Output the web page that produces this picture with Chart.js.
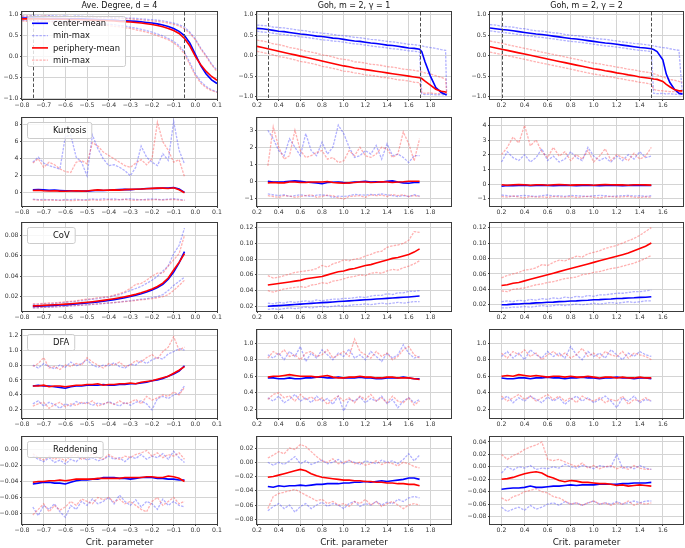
<!DOCTYPE html>
<html><head><meta charset="utf-8">
<script src="https://cdn.jsdelivr.net/npm/chart.js@4.4.0/dist/chart.umd.min.js"></script>
<style>
html,body{margin:0;padding:0;background:#fff;}
body{width:685px;height:548px;position:relative;overflow:hidden;}
canvas{position:absolute;}
</style></head><body>
<script>
// ---------------- DATA ----------------
// Row 1 (state): x grids
const degState_x=[-0.8,-0.775,-0.75,-0.725,-0.7,-0.675,-0.65,-0.625,-0.6,-0.575,-0.55,-0.525,-0.5,-0.475,-0.45,-0.425,-0.4,-0.375,-0.35,-0.325,-0.3,-0.275,-0.25,-0.225,-0.2,-0.175,-0.15,-0.125,-0.1,-0.075,-0.05,-0.025,0,0.025,0.05,0.075,0.1];
const degState_cMean=[0.92,0.92,0.92,0.915,0.915,0.91,0.91,0.91,0.905,0.905,0.9,0.9,0.895,0.89,0.885,0.88,0.875,0.87,0.86,0.855,0.85,0.84,0.83,0.815,0.8,0.78,0.755,0.72,0.67,0.6,0.5,0.32,0.05,-0.22,-0.42,-0.56,-0.65];
const degState_cMin=[0.87,0.86,0.87,0.85,0.86,0.85,0.84,0.85,0.83,0.84,0.82,0.83,0.81,0.8,0.8,0.78,0.77,0.76,0.74,0.73,0.7,0.68,0.65,0.62,0.58,0.54,0.49,0.43,0.36,0.26,0.1,-0.15,-0.42,-0.6,-0.72,-0.8,-0.85];
const degState_cMax=[0.97,0.96,0.98,0.97,0.96,0.98,0.97,0.96,0.97,0.95,0.97,0.96,0.95,0.96,0.94,0.95,0.94,0.93,0.94,0.92,0.92,0.91,0.9,0.89,0.88,0.87,0.85,0.83,0.8,0.76,0.7,0.58,0.42,0.2,0.02,-0.18,-0.33];
const degState_pMean=[0.9,0.9,0.9,0.9,0.895,0.895,0.89,0.89,0.89,0.885,0.885,0.88,0.875,0.87,0.865,0.86,0.855,0.85,0.84,0.835,0.825,0.815,0.8,0.785,0.765,0.74,0.71,0.67,0.62,0.55,0.43,0.25,0.0,-0.2,-0.36,-0.48,-0.57];
const degState_pMin=[0.85,0.84,0.86,0.84,0.83,0.84,0.82,0.83,0.81,0.82,0.8,0.8,0.78,0.78,0.77,0.75,0.74,0.72,0.71,0.69,0.67,0.64,0.61,0.58,0.54,0.5,0.45,0.4,0.32,0.22,0.06,-0.2,-0.46,-0.64,-0.75,-0.82,-0.86];
const degState_pMax=[0.96,0.97,0.96,0.95,0.97,0.96,0.95,0.96,0.95,0.96,0.94,0.95,0.94,0.93,0.94,0.92,0.93,0.91,0.92,0.9,0.9,0.88,0.88,0.86,0.85,0.84,0.82,0.8,0.77,0.73,0.66,0.55,0.4,0.18,0.0,-0.2,-0.36];

const g1State_x=[0.2,0.25,0.3,0.35,0.4,0.45,0.5,0.55,0.6,0.65,0.7,0.75,0.8,0.85,0.9,0.95,1.0,1.05,1.1,1.15,1.2,1.25,1.3,1.35,1.4,1.45,1.5,1.55,1.6,1.65,1.7,1.72,1.75,1.8,1.85,1.9,1.94,1.95];
const g1State_cMean=[0.67,0.66,0.64,0.62,0.6,0.59,0.57,0.55,0.53,0.52,0.5,0.48,0.47,0.45,0.43,0.42,0.4,0.38,0.36,0.35,0.33,0.31,0.3,0.28,0.26,0.25,0.23,0.21,0.19,0.18,0.16,0.1,-0.15,-0.5,-0.78,-0.9,-0.95,-0.96];
const g1State_cMin=[0.6,0.58,0.57,0.55,0.53,0.52,0.5,0.48,0.46,0.45,0.43,0.41,0.39,0.38,0.36,0.35,0.33,0.31,0.29,0.28,0.26,0.24,0.22,0.21,0.19,0.17,0.16,0.14,0.12,0.11,0.09,-0.93,-0.95,-0.94,-0.96,-0.95,-0.96,-0.96];
const g1State_cMax=[0.75,0.74,0.73,0.7,0.69,0.68,0.66,0.64,0.62,0.61,0.58,0.57,0.55,0.54,0.52,0.5,0.49,0.47,0.45,0.44,0.42,0.4,0.39,0.37,0.35,0.34,0.32,0.3,0.28,0.27,0.25,0.24,0.22,0.2,0.18,0.15,0.13,-0.95];
const g1State_pMean=[0.23,0.2,0.17,0.14,0.11,0.08,0.05,0.02,-0.01,-0.04,-0.07,-0.1,-0.13,-0.16,-0.19,-0.22,-0.25,-0.27,-0.3,-0.32,-0.34,-0.36,-0.38,-0.4,-0.42,-0.44,-0.46,-0.48,-0.5,-0.52,-0.54,-0.56,-0.62,-0.72,-0.82,-0.87,-0.89,-0.9];
const g1State_pMin=[0.11,0.08,0.05,0.02,-0.02,-0.04,-0.07,-0.1,-0.14,-0.16,-0.19,-0.22,-0.26,-0.28,-0.31,-0.34,-0.38,-0.39,-0.42,-0.44,-0.47,-0.48,-0.5,-0.53,-0.54,-0.56,-0.59,-0.6,-0.62,-0.65,-0.66,-0.9,-0.92,-0.91,-0.93,-0.92,-0.93,-0.93];
const g1State_pMax=[0.38,0.36,0.33,0.29,0.27,0.24,0.2,0.18,0.15,0.11,0.09,0.06,0.02,0.0,-0.03,-0.07,-0.09,-0.11,-0.15,-0.16,-0.18,-0.21,-0.22,-0.24,-0.27,-0.28,-0.3,-0.33,-0.34,-0.36,-0.38,-0.4,-0.42,-0.45,-0.49,-0.53,-0.57,-0.9];

const g2State_x=[0.1,0.15,0.2,0.25,0.3,0.35,0.4,0.45,0.5,0.55,0.6,0.65,0.7,0.75,0.8,0.85,0.9,0.95,1.0,1.05,1.1,1.15,1.2,1.25,1.3,1.35,1.4,1.45,1.5,1.52,1.55,1.6,1.63,1.66,1.7,1.74,1.77];
const g2State_cMean=[0.68,0.66,0.64,0.63,0.61,0.59,0.57,0.55,0.53,0.52,0.5,0.48,0.46,0.44,0.42,0.41,0.39,0.37,0.35,0.33,0.31,0.3,0.28,0.26,0.24,0.22,0.2,0.19,0.17,0.15,0.1,-0.1,-0.45,-0.65,-0.82,-0.92,-0.94];
const g2State_cMin=[0.61,0.59,0.57,0.56,0.54,0.52,0.5,0.48,0.46,0.45,0.43,0.41,0.39,0.37,0.35,0.34,0.32,0.3,0.28,0.26,0.24,0.23,0.21,0.19,0.17,0.15,0.13,0.12,0.1,-0.92,-0.93,-0.92,-0.94,-0.93,-0.94,-0.95,-0.95];
const g2State_cMax=[0.76,0.75,0.72,0.71,0.7,0.67,0.66,0.63,0.61,0.6,0.58,0.56,0.55,0.52,0.5,0.49,0.47,0.45,0.43,0.41,0.4,0.38,0.36,0.34,0.32,0.3,0.29,0.27,0.25,0.24,0.22,0.2,0.19,0.17,0.15,0.13,-0.95];
const g2State_pMean=[0.22,0.19,0.16,0.13,0.1,0.07,0.04,0.01,-0.02,-0.05,-0.08,-0.11,-0.14,-0.17,-0.2,-0.23,-0.26,-0.29,-0.32,-0.34,-0.37,-0.39,-0.42,-0.44,-0.47,-0.49,-0.52,-0.54,-0.56,-0.57,-0.58,-0.63,-0.7,-0.76,-0.83,-0.86,-0.86];
const g2State_pMin=[0.09,0.06,0.03,0.0,-0.03,-0.06,-0.09,-0.12,-0.15,-0.18,-0.21,-0.24,-0.27,-0.3,-0.33,-0.36,-0.39,-0.42,-0.45,-0.47,-0.5,-0.52,-0.55,-0.57,-0.6,-0.62,-0.65,-0.67,-0.7,-0.82,-0.85,-0.86,-0.87,-0.88,-0.88,-0.89,-0.9];
const g2State_pMax=[0.36,0.33,0.31,0.27,0.24,0.21,0.18,0.15,0.12,0.09,0.06,0.03,0.0,-0.03,-0.06,-0.09,-0.12,-0.15,-0.18,-0.2,-0.23,-0.25,-0.28,-0.3,-0.33,-0.35,-0.38,-0.4,-0.42,-0.44,-0.47,-0.52,-0.55,-0.58,-0.6,-0.63,-0.65];

// Rows 2-5: x grids (window between the critical lines)
const xDeg=[-0.75,-0.725,-0.7,-0.675,-0.65,-0.625,-0.6,-0.575,-0.55,-0.525,-0.5,-0.475,-0.45,-0.425,-0.4,-0.375,-0.35,-0.325,-0.3,-0.275,-0.25,-0.225,-0.2,-0.175,-0.15,-0.125,-0.1,-0.075,-0.05];
const xG1=[0.3,0.35,0.4,0.45,0.5,0.55,0.6,0.65,0.7,0.75,0.8,0.85,0.9,0.95,1.0,1.05,1.1,1.15,1.2,1.25,1.3,1.35,1.4,1.45,1.5,1.55,1.6,1.65,1.7];
const xG2=[0.2,0.25,0.3,0.35,0.4,0.45,0.5,0.55,0.6,0.65,0.7,0.75,0.8,0.85,0.9,0.95,1.0,1.05,1.1,1.15,1.2,1.25,1.3,1.35,1.4,1.45,1.5];

// Kurtosis
const degKurt_cMean=[0.35,0.38,0.35,0.3,0.32,0.28,0.25,0.25,0.22,0.22,0.2,0.25,0.3,0.28,0.3,0.35,0.38,0.4,0.38,0.42,0.45,0.5,0.5,0.52,0.55,0.55,0.62,0.45,0.05];
const degKurt_cMin=[-0.75,-0.8,-0.78,-0.82,-0.8,-0.85,-0.78,-0.8,-0.75,-0.82,-0.8,-0.72,-0.78,-0.7,-0.75,-0.72,-0.8,-0.75,-0.7,-0.78,-0.82,-0.75,-0.72,-0.78,-0.8,-0.75,-0.7,-0.78,-0.85];
const degKurt_cMax=[3.6,4.2,3.5,3.2,3.0,2.8,6.6,6.8,4.2,3.6,2.0,6.8,5.2,4.0,3.2,3.3,3.0,2.6,2.0,3.0,5.5,4.2,3.6,3.2,4.6,3.8,8.4,5.0,3.4];
const degKurt_pMean=[0.28,0.3,0.25,0.22,0.25,0.2,0.18,0.22,0.25,0.2,0.22,0.3,0.35,0.3,0.32,0.35,0.32,0.38,0.4,0.42,0.45,0.48,0.52,0.55,0.55,0.5,0.6,0.35,0.0];
const degKurt_pMin=[-0.8,-0.85,-0.9,-0.82,-0.88,-0.9,-0.85,-0.92,-0.88,-0.85,-0.9,-0.82,-0.88,-0.85,-0.8,-0.85,-0.82,-0.78,-0.85,-0.88,-0.8,-0.85,-0.82,-0.78,-0.85,-0.8,-0.78,-0.85,-0.9];
const degKurt_pMax=[3.5,4.0,3.0,3.6,3.3,2.8,2.5,2.4,3.6,3.8,3.4,5.9,5.5,4.8,4.4,4.0,3.6,3.2,3.0,3.5,3.9,3.3,4.0,8.3,6.0,5.0,3.6,3.9,1.9];

const g1Kurt_cMean=[0.0,-0.05,-0.05,-0.03,0.0,0.02,0.0,-0.05,-0.08,-0.1,-0.15,-0.08,-0.06,-0.05,-0.08,-0.1,-0.05,-0.03,0.0,-0.05,-0.03,-0.05,0.0,0.02,-0.05,-0.1,-0.12,-0.08,-0.08];
const g1Kurt_cMin=[-0.75,-0.8,-0.85,-0.8,-0.9,-0.85,-0.8,-0.85,-0.9,-0.82,-0.8,-0.85,-0.95,-0.88,-0.9,-0.85,-0.78,-0.8,-0.82,-0.78,-0.8,-0.75,-0.8,-0.85,-0.9,-0.85,-0.9,-0.8,-0.88];
const g1Kurt_cMax=[3.0,2.5,1.8,1.5,2.5,2.0,1.5,2.8,1.8,1.5,2.3,1.6,2.0,3.3,2.8,2.0,1.4,1.5,1.8,1.6,2.1,1.3,2.2,1.5,1.6,1.4,1.1,1.5,1.5];
const g1Kurt_pMean=[-0.1,-0.08,-0.1,-0.1,-0.05,-0.05,-0.08,-0.08,-0.05,-0.05,-0.05,-0.02,-0.08,-0.1,-0.12,-0.1,-0.08,-0.05,-0.05,-0.08,-0.06,-0.03,-0.05,-0.08,-0.05,-0.03,0.0,0.0,0.0];
const g1Kurt_pMin=[-0.85,-0.9,-0.95,-0.85,-0.88,-0.95,-0.9,-0.85,-0.8,-0.95,-0.9,-0.82,-0.85,-0.98,-1.05,-0.9,-0.88,-0.85,-0.95,-0.8,-0.85,-0.82,-0.9,-0.78,-0.85,-0.8,-0.9,-0.85,-0.9];
const g1Kurt_pMax=[0.9,3.2,2.0,1.3,1.5,3.0,1.8,1.4,1.5,1.7,1.8,1.3,1.4,1.1,1.2,1.8,1.5,2.0,1.5,1.4,1.6,2.0,1.9,1.4,1.6,2.9,2.2,1.2,2.5];

const g2Kurt_cMean=[-0.15,-0.1,-0.12,-0.1,-0.08,-0.12,-0.1,-0.08,-0.1,-0.12,-0.1,-0.08,-0.1,-0.12,-0.1,-0.08,-0.1,-0.12,-0.1,-0.08,-0.1,-0.12,-0.1,-0.08,-0.1,-0.1,-0.1];
const g2Kurt_cMin=[-0.75,-0.8,-0.85,-0.8,-0.78,-0.82,-0.85,-0.8,-0.75,-0.82,-0.8,-0.85,-0.78,-0.8,-0.82,-0.85,-0.8,-0.78,-0.8,-0.85,-0.82,-0.8,-0.78,-0.82,-0.8,-0.85,-0.8];
const g2Kurt_cMax=[1.5,2.2,1.8,1.6,2.0,1.5,1.8,2.4,1.6,1.9,1.5,1.7,2.2,1.8,1.6,2.5,1.9,1.6,1.8,1.5,1.9,1.6,2.0,1.7,2.2,1.8,1.9];
const g2Kurt_pMean=[-0.05,-0.08,-0.05,-0.03,-0.05,-0.08,-0.05,-0.05,-0.08,-0.05,-0.03,-0.05,-0.08,-0.06,-0.05,-0.05,-0.08,-0.05,-0.03,-0.05,-0.06,-0.05,-0.08,-0.05,-0.05,-0.06,-0.08];
const g2Kurt_pMin=[-0.85,-0.9,-0.82,-0.88,-0.95,-0.85,-0.9,-0.88,-0.92,-0.85,-0.88,-0.9,-0.85,-0.92,-0.88,-0.85,-0.9,-0.95,-0.88,-0.85,-0.9,-0.88,-0.85,-0.9,-0.92,-0.88,-0.9];
const g2Kurt_pMax=[2.0,2.5,3.2,2.8,4.0,2.6,3.0,2.2,1.8,2.5,1.9,2.2,1.6,2.0,1.7,2.3,1.5,1.9,2.4,1.6,2.0,1.8,1.6,2.1,1.7,1.9,2.5];

// CoV
const degCov_cMean=[0.0105,0.0107,0.011,0.0112,0.0115,0.0118,0.012,0.0124,0.0128,0.0133,0.0138,0.0143,0.0149,0.0156,0.0163,0.0171,0.018,0.019,0.0201,0.0214,0.0228,0.0245,0.0265,0.029,0.032,0.037,0.044,0.053,0.064];
const degCov_cMin=[0.009,0.0092,0.0095,0.0097,0.01,0.0102,0.0105,0.011,0.0112,0.0116,0.012,0.0124,0.0128,0.0133,0.0138,0.0143,0.0148,0.0155,0.016,0.0168,0.0175,0.018,0.019,0.02,0.022,0.026,0.031,0.035,0.039];
const degCov_cMax=[0.0125,0.0125,0.013,0.013,0.0135,0.014,0.0145,0.015,0.0155,0.016,0.017,0.0175,0.018,0.019,0.0195,0.021,0.022,0.024,0.026,0.028,0.03,0.033,0.036,0.04,0.045,0.05,0.062,0.07,0.087];
const degCov_pMean=[0.011,0.0112,0.0115,0.0118,0.0121,0.0124,0.0127,0.0131,0.0135,0.014,0.0145,0.0151,0.0157,0.0164,0.0172,0.018,0.0189,0.0199,0.021,0.0223,0.0238,0.0255,0.0276,0.03,0.0332,0.0382,0.046,0.0535,0.062];
const degCov_pMin=[0.0092,0.0094,0.0096,0.0099,0.0102,0.0105,0.0108,0.0112,0.0115,0.0118,0.0122,0.0126,0.013,0.0134,0.0138,0.0142,0.0147,0.0152,0.0157,0.0163,0.017,0.0175,0.018,0.019,0.02,0.022,0.026,0.031,0.036];
const degCov_pMax=[0.013,0.013,0.0135,0.014,0.014,0.0145,0.015,0.0155,0.016,0.017,0.0175,0.018,0.019,0.0195,0.02,0.0215,0.023,0.025,0.028,0.032,0.033,0.036,0.04,0.043,0.043,0.05,0.056,0.062,0.08];

const g1Cov_cMean=[0.02,0.0205,0.0209,0.0214,0.0218,0.0223,0.0228,0.0232,0.0237,0.0241,0.0246,0.025,0.0255,0.026,0.0264,0.0269,0.0273,0.0278,0.0283,0.0287,0.0292,0.0296,0.0301,0.0305,0.031,0.0315,0.0319,0.0324,0.033];
const g1Cov_cMin=[0.016,0.017,0.016,0.017,0.018,0.017,0.018,0.019,0.018,0.019,0.02,0.019,0.02,0.021,0.02,0.021,0.022,0.022,0.023,0.022,0.023,0.024,0.023,0.024,0.025,0.024,0.025,0.026,0.026];
const g1Cov_cMax=[0.024,0.023,0.025,0.024,0.026,0.025,0.026,0.027,0.026,0.028,0.027,0.028,0.029,0.029,0.03,0.03,0.031,0.032,0.031,0.033,0.034,0.034,0.036,0.035,0.037,0.037,0.039,0.039,0.04];
const g1Cov_pMean=[0.047,0.048,0.049,0.05,0.051,0.052,0.053,0.055,0.056,0.057,0.058,0.06,0.062,0.064,0.065,0.067,0.068,0.07,0.072,0.073,0.075,0.077,0.079,0.081,0.082,0.084,0.086,0.089,0.093];
const g1Cov_pMin=[0.04,0.038,0.04,0.042,0.043,0.044,0.045,0.044,0.047,0.048,0.05,0.049,0.052,0.053,0.055,0.057,0.058,0.06,0.059,0.062,0.063,0.062,0.065,0.067,0.066,0.069,0.071,0.074,0.078];
const g1Cov_pMax=[0.059,0.056,0.057,0.059,0.061,0.063,0.064,0.065,0.066,0.068,0.072,0.07,0.074,0.076,0.079,0.078,0.08,0.081,0.084,0.086,0.089,0.09,0.095,0.097,0.098,0.1,0.104,0.115,0.114];

const g2Cov_cMean=[0.02,0.0203,0.0209,0.0211,0.0217,0.0219,0.0225,0.0227,0.0233,0.0235,0.0241,0.0243,0.0249,0.0251,0.0257,0.0259,0.0265,0.0267,0.0273,0.0275,0.0281,0.0283,0.0289,0.0291,0.0297,0.0299,0.0305];
const g2Cov_cMin=[0.016,0.016,0.017,0.017,0.018,0.017,0.018,0.019,0.018,0.019,0.02,0.019,0.02,0.021,0.02,0.021,0.022,0.021,0.022,0.023,0.022,0.023,0.024,0.023,0.024,0.025,0.025];
const g2Cov_cMax=[0.024,0.025,0.024,0.026,0.025,0.027,0.026,0.028,0.027,0.029,0.028,0.03,0.029,0.031,0.03,0.032,0.031,0.033,0.033,0.034,0.035,0.035,0.036,0.037,0.037,0.038,0.039];
const g2Cov_pMean=[0.045,0.046,0.048,0.049,0.051,0.053,0.055,0.057,0.059,0.061,0.063,0.065,0.067,0.069,0.071,0.073,0.075,0.077,0.079,0.081,0.083,0.085,0.087,0.09,0.093,0.096,0.1];
const g2Cov_pMin=[0.038,0.037,0.04,0.041,0.042,0.044,0.046,0.047,0.049,0.05,0.052,0.054,0.055,0.056,0.059,0.06,0.062,0.063,0.065,0.067,0.068,0.07,0.072,0.074,0.077,0.08,0.084];
const g2Cov_pMax=[0.055,0.058,0.06,0.062,0.065,0.066,0.068,0.072,0.071,0.075,0.078,0.077,0.08,0.083,0.082,0.086,0.088,0.09,0.093,0.095,0.097,0.1,0.103,0.106,0.11,0.115,0.12];

// DFA
const degDfa_cMean=[0.52,0.53,0.52,0.52,0.51,0.5,0.49,0.51,0.52,0.52,0.53,0.53,0.53,0.54,0.53,0.53,0.54,0.54,0.55,0.55,0.56,0.57,0.59,0.6,0.62,0.65,0.68,0.72,0.79];
const degDfa_cMin=[0.28,0.32,0.25,0.3,0.27,0.22,0.28,0.25,0.31,0.28,0.3,0.26,0.29,0.27,0.31,0.28,0.25,0.3,0.26,0.3,0.32,0.28,0.2,0.35,0.38,0.35,0.4,0.42,0.52];
const degDfa_cMax=[0.8,0.76,0.82,0.78,0.75,0.8,0.77,0.84,0.79,0.82,0.87,0.8,0.77,0.8,0.79,0.83,0.78,0.76,0.81,0.8,0.86,0.82,0.87,0.9,0.88,0.95,0.98,1.02,1.0];
const degDfa_pMean=[0.52,0.52,0.53,0.51,0.52,0.52,0.51,0.52,0.53,0.53,0.54,0.54,0.55,0.53,0.54,0.54,0.55,0.55,0.56,0.55,0.57,0.58,0.59,0.61,0.63,0.65,0.69,0.73,0.78];
const degDfa_pMin=[0.25,0.28,0.3,0.22,0.27,0.3,0.24,0.28,0.26,0.3,0.28,0.32,0.25,0.28,0.3,0.27,0.32,0.28,0.3,0.34,0.28,0.38,0.33,0.36,0.4,0.38,0.44,0.4,0.5];
const degDfa_pMax=[0.78,0.82,0.9,0.76,0.78,0.74,0.8,0.78,0.82,0.8,0.9,0.84,0.8,0.76,0.82,0.8,0.84,0.78,0.8,0.86,0.84,0.9,0.94,0.88,0.98,1.04,1.18,1.0,1.04];

const g1Dfa_cMean=[0.58,0.58,0.57,0.57,0.58,0.57,0.57,0.58,0.58,0.59,0.59,0.58,0.58,0.59,0.58,0.58,0.58,0.59,0.58,0.58,0.57,0.57,0.58,0.58,0.58,0.59,0.58,0.57,0.57];
const g1Dfa_cMin=[0.34,0.3,0.36,0.28,0.32,0.38,0.3,0.34,0.28,0.36,0.3,0.33,0.26,0.36,0.18,0.32,0.3,0.35,0.28,0.33,0.3,0.36,0.27,0.32,0.22,0.3,0.34,0.28,0.32];
const g1Dfa_cMax=[0.86,0.82,0.88,0.8,0.9,0.84,0.96,0.78,0.88,0.82,0.92,0.86,0.8,0.88,0.84,0.93,0.82,0.86,0.8,0.9,0.84,0.78,0.88,0.82,0.86,0.98,0.88,0.82,0.84];
const g1Dfa_pMean=[0.59,0.6,0.6,0.61,0.62,0.61,0.6,0.6,0.6,0.59,0.6,0.61,0.59,0.58,0.58,0.59,0.59,0.6,0.59,0.59,0.58,0.58,0.59,0.59,0.58,0.58,0.58,0.57,0.56];
const g1Dfa_pMin=[0.32,0.38,0.4,0.34,0.36,0.3,0.38,0.32,0.35,0.3,0.34,0.26,0.32,0.36,0.3,0.34,0.28,0.36,0.32,0.38,0.3,0.34,0.28,0.36,0.3,0.28,0.34,0.25,0.3];
const g1Dfa_pMax=[0.82,0.9,0.86,0.92,0.84,0.86,0.8,0.88,0.9,0.84,0.86,0.92,0.82,0.86,0.9,0.84,1.05,0.9,0.86,0.82,0.9,0.84,0.88,0.8,0.84,0.92,0.96,0.86,0.82];

const g2Dfa_cMean=[0.58,0.57,0.57,0.58,0.58,0.57,0.58,0.58,0.59,0.58,0.58,0.57,0.58,0.58,0.59,0.58,0.58,0.57,0.58,0.58,0.59,0.58,0.58,0.57,0.58,0.58,0.57];
const g2Dfa_cMin=[0.32,0.36,0.28,0.34,0.3,0.36,0.32,0.28,0.35,0.3,0.34,0.26,0.32,0.36,0.3,0.34,0.28,0.32,0.36,0.3,0.22,0.34,0.3,0.36,0.28,0.32,0.3];
const g2Dfa_cMax=[0.84,0.9,0.82,0.88,0.8,0.92,0.86,0.82,0.9,0.84,0.88,0.82,0.96,0.86,0.8,0.9,0.84,0.88,0.82,0.92,0.86,0.8,0.88,0.84,0.9,0.86,0.84];
const g2Dfa_pMean=[0.6,0.61,0.6,0.62,0.61,0.6,0.61,0.6,0.59,0.6,0.6,0.59,0.6,0.59,0.59,0.6,0.59,0.58,0.59,0.59,0.58,0.59,0.58,0.58,0.59,0.58,0.58];
const g2Dfa_pMin=[0.36,0.3,0.34,0.38,0.32,0.36,0.3,0.34,0.38,0.32,0.36,0.3,0.34,0.28,0.36,0.32,0.3,0.34,0.28,0.32,0.3,0.36,0.26,0.32,0.3,0.34,0.3];
const g2Dfa_pMax=[0.88,0.82,0.9,0.86,0.92,0.84,0.88,0.8,0.86,0.9,0.84,0.88,0.82,0.86,0.94,0.84,0.88,0.82,0.9,0.86,0.84,0.9,0.82,0.88,0.86,0.84,0.8];

// Reddening
const degRed_cMean=[-0.043,-0.042,-0.041,-0.041,-0.042,-0.042,-0.043,-0.041,-0.039,-0.038,-0.038,-0.037,-0.037,-0.035,-0.035,-0.035,-0.036,-0.036,-0.037,-0.036,-0.035,-0.035,-0.035,-0.036,-0.036,-0.037,-0.037,-0.038,-0.038];
const degRed_cMin=[-0.072,-0.083,-0.07,-0.075,-0.068,-0.078,-0.085,-0.07,-0.075,-0.065,-0.07,-0.062,-0.068,-0.065,-0.06,-0.068,-0.057,-0.065,-0.07,-0.063,-0.072,-0.065,-0.068,-0.075,-0.062,-0.07,-0.065,-0.07,-0.072];
const degRed_cMax=[-0.008,-0.012,-0.015,-0.01,-0.016,-0.013,-0.018,-0.012,-0.015,-0.009,-0.013,-0.01,-0.014,-0.012,-0.008,-0.012,-0.01,-0.015,-0.009,-0.011,-0.006,-0.012,-0.008,-0.01,-0.005,-0.012,-0.002,-0.01,-0.016];
const degRed_pMean=[-0.041,-0.04,-0.04,-0.039,-0.039,-0.038,-0.039,-0.038,-0.037,-0.037,-0.037,-0.037,-0.036,-0.036,-0.036,-0.036,-0.036,-0.035,-0.035,-0.035,-0.035,-0.034,-0.034,-0.035,-0.035,-0.033,-0.034,-0.036,-0.04];
const degRed_pMin=[-0.082,-0.075,-0.068,-0.078,-0.07,-0.076,-0.072,-0.065,-0.07,-0.062,-0.065,-0.068,-0.06,-0.063,-0.06,-0.066,-0.062,-0.068,-0.065,-0.07,-0.075,-0.078,-0.065,-0.06,-0.07,-0.065,-0.06,-0.068,-0.065];
const degRed_pMax=[-0.005,-0.01,-0.013,-0.008,-0.012,-0.01,-0.014,-0.008,-0.006,-0.012,-0.01,-0.005,-0.01,-0.012,-0.006,-0.01,-0.012,-0.008,-0.01,-0.006,-0.004,-0.001,-0.008,-0.004,-0.01,-0.006,-0.008,-0.004,-0.012];

const g1Red_cMean=[-0.034,-0.035,-0.033,-0.034,-0.033,-0.033,-0.032,-0.033,-0.032,-0.031,-0.031,-0.03,-0.03,-0.03,-0.029,-0.029,-0.028,-0.028,-0.027,-0.028,-0.027,-0.026,-0.027,-0.026,-0.025,-0.024,-0.022,-0.022,-0.024];
const g1Red_cMin=[-0.068,-0.062,-0.058,-0.065,-0.06,-0.07,-0.062,-0.058,-0.065,-0.06,-0.056,-0.062,-0.058,-0.06,-0.065,-0.058,-0.055,-0.062,-0.058,-0.06,-0.055,-0.06,-0.056,-0.058,-0.052,-0.055,-0.05,-0.048,-0.05];
const g1Red_cMax=[0.0,-0.004,0.0,-0.003,0.002,0.008,-0.002,0.002,-0.003,0.0,0.003,-0.002,0.0,0.004,-0.002,0.002,0.0,-0.003,0.002,0.0,-0.002,0.003,0.0,0.002,-0.002,0.004,0.012,0.002,0.01];
const g1Red_pMean=[-0.021,-0.02,-0.018,-0.016,-0.014,-0.012,-0.01,-0.012,-0.016,-0.019,-0.021,-0.022,-0.023,-0.024,-0.025,-0.025,-0.026,-0.026,-0.027,-0.027,-0.028,-0.028,-0.029,-0.029,-0.03,-0.03,-0.031,-0.031,-0.033];
const g1Red_pMin=[-0.065,-0.048,-0.044,-0.042,-0.04,-0.038,-0.042,-0.046,-0.05,-0.054,-0.052,-0.058,-0.055,-0.06,-0.058,-0.062,-0.055,-0.058,-0.052,-0.06,-0.055,-0.062,-0.058,-0.055,-0.06,-0.065,-0.06,-0.058,-0.06];
const g1Red_pMax=[0.006,0.01,0.015,0.012,0.02,0.018,0.025,0.022,0.015,0.008,0.002,0.0,0.005,-0.002,0.0,0.003,-0.002,0.0,-0.004,-0.002,0.002,-0.003,0.0,-0.002,-0.005,0.0,-0.002,-0.006,-0.008];

const g2Red_cMean=[-0.036,-0.035,-0.034,-0.034,-0.033,-0.031,-0.033,-0.033,-0.032,-0.031,-0.031,-0.03,-0.029,-0.03,-0.029,-0.029,-0.029,-0.028,-0.028,-0.028,-0.028,-0.027,-0.027,-0.026,-0.026,-0.026,-0.025];
const g2Red_cMin=[-0.065,-0.072,-0.068,-0.065,-0.07,-0.062,-0.068,-0.065,-0.06,-0.058,-0.062,-0.056,-0.06,-0.058,-0.062,-0.058,-0.055,-0.06,-0.058,-0.06,-0.056,-0.06,-0.058,-0.055,-0.058,-0.055,-0.055];
const g2Red_cMax=[-0.01,0.0,-0.005,0.0,-0.002,0.002,-0.004,-0.002,-0.003,0.0,-0.002,0.004,0.0,-0.002,0.002,0.0,-0.003,0.002,0.0,0.0,0.02,-0.002,0.0,-0.003,0.002,-0.002,-0.004];
const g2Red_pMean=[-0.02,-0.019,-0.017,-0.014,-0.011,-0.009,-0.008,-0.01,-0.015,-0.018,-0.022,-0.024,-0.022,-0.023,-0.025,-0.025,-0.026,-0.027,-0.027,-0.028,-0.03,-0.029,-0.031,-0.03,-0.029,-0.03,-0.031];
const g2Red_pMin=[-0.05,-0.055,-0.048,-0.045,-0.04,-0.038,-0.035,-0.04,-0.042,-0.048,-0.05,-0.055,-0.06,-0.058,-0.062,-0.058,-0.055,-0.06,-0.058,-0.062,-0.058,-0.06,-0.055,-0.062,-0.058,-0.06,-0.058];
const g2Red_pMax=[0.02,0.012,0.018,0.022,0.028,0.032,0.035,0.04,0.012,0.01,0.012,0.008,0.004,0.0,0.006,-0.002,0.002,-0.003,0.0,0.002,-0.003,0.0,-0.004,0.002,-0.002,-0.004,-0.004];

// critical-parameter window markers
const critDeg=[-0.75,-0.05];
const critG1=[0.3,1.7];
const critG2=[0.2,1.5];

// tick labels
const xTicksDeg=[-0.8,-0.7,-0.6,-0.5,-0.4,-0.3,-0.2,-0.1,0.0,0.1];
const xTicksG1=[0.2,0.4,0.6,0.8,1.0,1.2,1.4,1.6,1.8];
const xTicksG2=[0.2,0.4,0.6,0.8,1.0,1.2,1.4,1.6];
const yTicksState=[-1.0,-0.5,0.0,0.5,1.0];
const yTicksKurtDeg=[0,2,4,6,8];
const yTicksKurtG1=[-1,0,1,2,3];
const yTicksKurtG2=[-1,0,1,2,3,4];
const yTicksCovDeg=[0.02,0.04,0.06,0.08];
const yTicksCovG=[0.02,0.04,0.06,0.08,0.10,0.12];
const yTicksDfaDeg=[0.2,0.4,0.6,0.8,1.0,1.2];
const yTicksDfaG=[0.2,0.4,0.6,0.8,1.0];
const yTicksRedDeg=[-0.08,-0.06,-0.04,-0.02,0.00];
const yTicksRedG1=[-0.08,-0.06,-0.04,-0.02,0.00,0.02];
const yTicksRedG2=[-0.08,-0.06,-0.04,-0.02,0.00,0.02,0.04];

const titles=['Ave. Degree, d = 4','Goh, m = 2, \u03b3 = 1','Goh, m = 2, \u03b3 = 2'];
const rowLabels=['Kurtosis','CoV','DFA','Reddening'];
const legendLabels=['center-mean','min-max','periphery-mean','min-max'];
const xAxisLabel='Crit. parameter';

// ---------------- LAYOUT / STYLE ----------------
const FONT='"DejaVu Sans", sans-serif';
const BLUE='#0000ff', RED='#ff0000';
const LBLUE='rgba(70,70,255,0.42)', LRED='rgba(255,70,70,0.42)';
const BAND_W=1.3, BAND_DASH=[2.5,1.2];
const GRID='#d4d4d4';
const COLS=[
  {left:22,width:195,xmin:-0.8,xmax:0.1,ticks:xTicksDeg,crit:critDeg},
  {left:257,width:194,xmin:0.2,xmax:1.99,ticks:xTicksG1,crit:critG1},
  {left:490,width:193,xmin:0.1,xmax:1.775,ticks:xTicksG2,crit:critG2}
];
const ROWS=[{top:12,height:87},{top:118,height:88},{top:223,height:88},{top:330,height:88},{top:437,height:87}];

function fmt(v,d){let s=Math.abs(v).toFixed(d); if(v<0 && Number(s)!==0) s='\u2212'+s; return s;}

const panels=[
  {c:0,r:0,x:degState_x,s:[degState_cMean,degState_cMin,degState_cMax,degState_pMean,degState_pMin,degState_pMax],y:[-1.02,1.065],yt:yTicksState,yd:1},
  {c:1,r:0,x:g1State_x,s:[g1State_cMean,g1State_cMin,g1State_cMax,g1State_pMean,g1State_pMin,g1State_pMax],y:[-1.06,1.07],yt:yTicksState,yd:1},
  {c:2,r:0,x:g2State_x,s:[g2State_cMean,g2State_cMin,g2State_cMax,g2State_pMean,g2State_pMin,g2State_pMax],y:[-1.06,1.07],yt:yTicksState,yd:1},
  {c:0,r:1,x:xDeg,s:[degKurt_cMean,degKurt_cMin,degKurt_cMax,degKurt_pMean,degKurt_pMin,degKurt_pMax],y:[-1.55,8.8],yt:yTicksKurtDeg,yd:0},
  {c:1,r:1,x:xG1,s:[g1Kurt_cMean,g1Kurt_cMin,g1Kurt_cMax,g1Kurt_pMean,g1Kurt_pMin,g1Kurt_pMax],y:[-1.46,3.72],yt:yTicksKurtG1,yd:0},
  {c:2,r:1,x:xG2,s:[g2Kurt_cMean,g2Kurt_cMin,g2Kurt_cMax,g2Kurt_pMean,g2Kurt_pMin,g2Kurt_pMax],y:[-1.5,4.5],yt:yTicksKurtG2,yd:0},
  {c:0,r:2,x:xDeg,s:[degCov_cMean,degCov_cMin,degCov_cMax,degCov_pMean,degCov_pMin,degCov_pMax],y:[0.006,0.092],yt:yTicksCovDeg,yd:2},
  {c:1,r:2,x:xG1,s:[g1Cov_cMean,g1Cov_cMin,g1Cov_cMax,g1Cov_pMean,g1Cov_pMin,g1Cov_pMax],y:[0.014,0.126],yt:yTicksCovG,yd:2},
  {c:2,r:2,x:xG2,s:[g2Cov_cMean,g2Cov_cMin,g2Cov_cMax,g2Cov_pMean,g2Cov_pMin,g2Cov_pMax],y:[0.012,0.126],yt:yTicksCovG,yd:2},
  {c:0,r:3,x:xDeg,s:[degDfa_cMean,degDfa_cMin,degDfa_cMax,degDfa_pMean,degDfa_pMin,degDfa_pMax],y:[0.09,1.27],yt:yTicksDfaDeg,yd:1},
  {c:1,r:3,x:xG1,s:[g1Dfa_cMean,g1Dfa_cMin,g1Dfa_cMax,g1Dfa_pMean,g1Dfa_pMin,g1Dfa_pMax],y:[0.095,1.16],yt:yTicksDfaG,yd:1},
  {c:2,r:3,x:xG2,s:[g2Dfa_cMean,g2Dfa_cMin,g2Dfa_cMax,g2Dfa_pMean,g2Dfa_pMin,g2Dfa_pMax],y:[0.095,1.16],yt:yTicksDfaG,yd:1},
  {c:0,r:4,x:xDeg,s:[degRed_cMean,degRed_cMin,degRed_cMax,degRed_pMean,degRed_pMin,degRed_pMax],y:[-0.0934,0.016],yt:yTicksRedDeg,yd:2},
  {c:1,r:4,x:xG1,s:[g1Red_cMean,g1Red_cMin,g1Red_cMax,g1Red_pMean,g1Red_pMin,g1Red_pMax],y:[-0.0866,0.0355],yt:yTicksRedG1,yd:2},
  {c:2,r:4,x:xG2,s:[g2Red_cMean,g2Red_cMin,g2Red_cMax,g2Red_pMean,g2Red_pMin,g2Red_pMax],y:[-0.092,0.048],yt:yTicksRedG2,yd:2}
];

const panelDecor={
  id:'panelDecor',
  afterDatasetsDraw(chart,args,o){
    const ctx=chart.ctx, ca=chart.chartArea, xs=chart.scales.x;
    ctx.save();
    if(o.crit){
      ctx.beginPath(); ctx.rect(ca.left,ca.top,ca.width,ca.height); ctx.clip();
      ctx.strokeStyle='#505050'; ctx.lineWidth=1; ctx.setLineDash([3.5,2]);
      o.crit.forEach(v=>{const px=Math.round(xs.getPixelForValue(v))+0.5;
        ctx.beginPath(); ctx.moveTo(px,ca.top); ctx.lineTo(px,ca.bottom); ctx.stroke();});
    }
    ctx.restore();
    if(o.legend){
      ctx.save();
      const items=o.legend;
      ctx.font='8.4px '+FONT;
      const tw=Math.max(...items.map(it=>ctx.measureText(it.label).width));
      const bx=ca.left+5, by=ca.top+4;
      const bw=26+tw+5;
      const bh=items.length===1?16:50;
      ctx.beginPath();
      if(ctx.roundRect) ctx.roundRect(bx+0.5,by+0.5,bw,bh,2); else ctx.rect(bx+0.5,by+0.5,bw,bh);
      ctx.fillStyle='rgba(255,255,255,0.8)'; ctx.fill();
      ctx.strokeStyle='#cccccc'; ctx.lineWidth=1; ctx.stroke();
      items.forEach((it,i)=>{
        const cy=items.length===1? by+8.5 : by+7.3+i*12.3;
        if(it.color){
          ctx.beginPath(); ctx.strokeStyle=it.color; ctx.lineWidth=it.width; ctx.setLineDash(it.dash);
          ctx.moveTo(bx+5,cy); ctx.lineTo(bx+21,cy); ctx.stroke(); ctx.setLineDash([]);
        }
        ctx.fillStyle='#111'; ctx.textBaseline='middle'; ctx.textAlign='left';
        ctx.fillText(it.label,bx+26,cy+0.5);
      });
      ctx.restore();
    }
  },
  afterDraw(chart,args,o){
    const ctx=chart.ctx, ca=chart.chartArea;
    ctx.save(); ctx.strokeStyle='#3c3c3c'; ctx.lineWidth=1;
    ctx.strokeRect(Math.round(ca.left)-0.5,Math.round(ca.top)-0.5,Math.round(ca.width)+1,Math.round(ca.height)+1);
    if(o.title){
      ctx.font='8px '+FONT; ctx.fillStyle='#111';
      ctx.textAlign='center'; ctx.textBaseline='middle';
      ctx.fillText(o.title,(ca.left+ca.right)/2,ca.top-6.5);
    }
    ctx.restore();
  }
};

function cfg(p){
  const col=COLS[p.c];
  const pts=arr=>p.x.map((xv,i)=>({x:xv,y:arr[i]}));
  const ds=(arr,color,w,dash,order,label)=>({label,data:pts(arr),borderColor:color,backgroundColor:color,borderWidth:w,borderDash:dash,pointRadius:0,tension:0,fill:false,order});
  const datasets=[
    ds(p.s[0],BLUE,1.6,[],1,legendLabels[0]),
    ds(p.s[1],LBLUE,BAND_W,BAND_DASH,3,legendLabels[1]),
    ds(p.s[2],LBLUE,BAND_W,BAND_DASH,3,legendLabels[1]),
    ds(p.s[3],RED,1.6,[],0,legendLabels[2]),
    ds(p.s[4],LRED,BAND_W,BAND_DASH,2,legendLabels[3]),
    ds(p.s[5],LRED,BAND_W,BAND_DASH,2,legendLabels[3])
  ];
  let legend=null;
  if(p.c===0){
    if(p.r===0) legend=[
      {label:legendLabels[0],color:BLUE,width:1.6,dash:[]},
      {label:legendLabels[1],color:LBLUE,width:BAND_W,dash:BAND_DASH},
      {label:legendLabels[2],color:RED,width:1.6,dash:[]},
      {label:legendLabels[3],color:LRED,width:BAND_W,dash:BAND_DASH}];
    else legend=[{label:rowLabels[p.r-1],color:null}];
  }
  const bottom=p.r===4, top=p.r===0;
  const tickFont={family:FONT,size:6.2};
  return {
    type:'line',
    data:{datasets},
    options:{
      responsive:false,maintainAspectRatio:false,animation:false,devicePixelRatio:1,events:[],
      layout:{padding:{top:top?12:8,right:10,left:0,bottom:0}},
      plugins:{
        legend:{display:false},tooltip:{enabled:false},title:{display:false},
        panelDecor:{crit:top?col.crit:null,legend,title:top?titles[p.c]:null}
      },
      scales:{
        x:{type:'linear',min:col.xmin,max:col.xmax,
          afterBuildTicks:s=>{s.ticks=col.ticks.map(v=>({value:v}));},
          afterFit:s=>{s.height=bottom?24:13;},
          ticks:{autoSkip:false,maxRotation:0,minRotation:0,padding:1,color:'#333',font:tickFont,callback:v=>fmt(v,1)},
          grid:{color:GRID,lineWidth:1,drawTicks:true,tickLength:2,tickColor:'#444'},
          border:{display:false},
          title:{display:bottom,text:xAxisLabel,color:'#222',font:{family:FONT,size:8.8,lineHeight:1.2},padding:{top:0,bottom:0}}
        },
        y:{type:'linear',min:p.y[0],max:p.y[1],
          afterBuildTicks:s=>{s.ticks=p.yt.map(v=>({value:v}));},
          afterFit:s=>{s.width=30;},
          ticks:{autoSkip:false,padding:1.5,color:'#333',font:tickFont,callback:v=>fmt(v,p.yd)},
          grid:{color:GRID,lineWidth:1,drawTicks:true,tickLength:2,tickColor:'#444'},
          border:{display:false}
        }
      }
    },
    plugins:[panelDecor]
  };
}

panels.forEach(p=>{
  const col=COLS[p.c], row=ROWS[p.r];
  const cv=document.createElement('canvas');
  document.body.appendChild(cv);
  const W0=col.width+60, H0=row.height+50;
  cv.width=W0; cv.height=H0;
  let ch=new Chart(cv,cfg(p));
  const ca=ch.chartArea;
  const offL=ca.left, offT=ca.top, offR=W0-ca.right, offB=H0-ca.bottom;
  ch.destroy();
  cv.width=Math.round(offL+col.width+offR);
  cv.height=Math.round(offT+row.height+offB);
  cv.style.width=cv.width+'px'; cv.style.height=cv.height+'px';
  cv.style.left=(col.left-offL)+'px';
  cv.style.top=(row.top-offT)+'px';
  new Chart(cv,cfg(p));
});
</script>
</body></html>
